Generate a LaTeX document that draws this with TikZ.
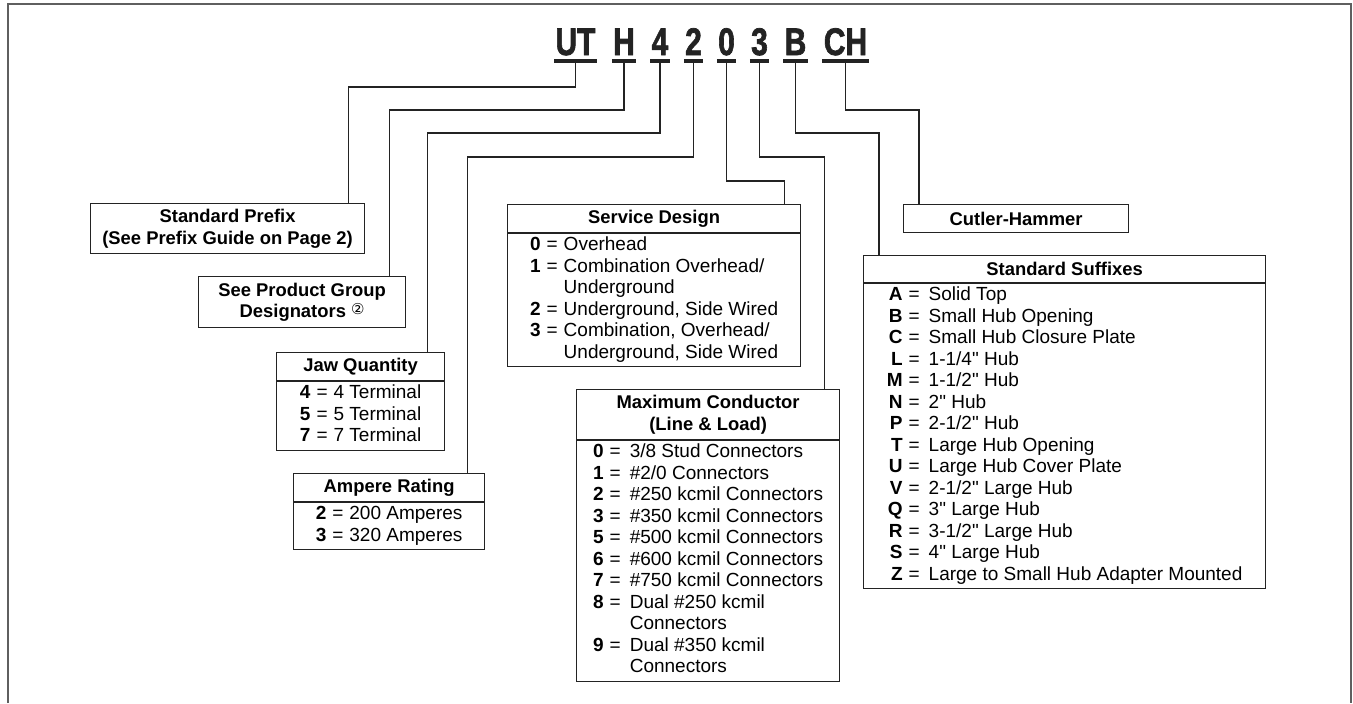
\documentclass[tikz,border=0pt]{standalone}
\usepackage{fontspec}
\setmainfont{Liberation Sans}[Ligatures=TeXOff]
\newfontfamily\circfont{DejaVu Sans}
\newfontfamily\codefont{Liberation Sans Bold}[FakeBold=2]
\usetikzlibrary{positioning}
\definecolor{framegray}{RGB}{95,95,95}
\definecolor{inkgray}{RGB}{35,35,35}
\newcommand{\narrow}[1]{\scalebox{0.78}[1]{#1}}
\newcommand{\kv}[2]{\textbf{#1} & = & #2\\}
\newenvironment{keylist}[1][3pt]{\begin{tabular}{@{}r@{\hspace{3pt}}c@{\hspace{#1}}l@{}}}{\end{tabular}}

\begin{document}
\begin{tikzpicture}[
    x=0.5pt, y=-0.5pt,
    codechar/.style={anchor=base, inner xsep=0.5pt, inner ysep=0pt, text=inkgray,
                     font=\fontsize{19.2}{20}\codefont},
    codeline/.style={line width=1.6pt, draw=inkgray},
    link/.style={line width=0.55pt, draw=inkgray},
    headbox/.style={rectangle, draw=inkgray, line width=0.6pt, minimum width=#1,
                    minimum height=14pt, inner sep=0pt, align=center, anchor=north west,
                    font=\fontsize{9.2}{10.8}\selectfont\bfseries},
    listbox/.style={rectangle, draw=inkgray, line width=0.6pt, minimum width=#1,
                    inner xsep=0pt, inner ysep=1pt, font=\fontsize{9.5}{10.75}\selectfont},
    frameline/.style={line width=1pt, draw=framegray}
]
\useasboundingbox (0,0) rectangle (1353,703);
\draw[frameline] (8,703) |- (1351,4) -- (1351,703);

% part number
\node[codechar] (cUT) at (575.5,55) {\narrow{UT}};
\node[codechar] (cH)  at (624,55)   {\narrow{H}};
\node[codechar] (c4)  at (660,55)   {\narrow{4}};
\node[codechar] (c2)  at (693.5,55) {\narrow{2}};
\node[codechar] (c0)  at (726.5,55) {\narrow{0}};
\node[codechar] (c3)  at (759.5,55) {\narrow{3}};
\node[codechar] (cB)  at (795.5,55) {\narrow{B}};
\node[codechar] (cCH) at (845.5,55) {\narrow{CH}};
\foreach \c in {cUT,cH,c4,c2,c0,c3,cB,cCH}
    \draw[codeline] ([yshift=-3pt]\c.base west) -- ([yshift=-3pt]\c.base east);

% prefix + product group
\node[headbox=137pt, minimum height=25pt] (prefix) at (90,203)
    {Standard Prefix\\(See Prefix Guide on Page 2)};
\node[headbox=103.5pt, minimum height=25.5pt] (product) at (198,276)
    {See Product Group\\Designators \raisebox{0.3ex}{\mdseries\circfont\fontsize{7.5}{7.5}\selectfont ②}};

% jaw quantity
\node[headbox=84pt] (jawhead) at (276,352) {Jaw Quantity};
\node[listbox=84pt, below=0pt of jawhead] (jawlist) {\begin{keylist}
    \kv{4}{4 Terminal}
    \kv{5}{5 Terminal}
    \kv{7}{7 Terminal}
\end{keylist}};

% ampere rating
\node[headbox=95.5pt] (amphead) at (293,473) {Ampere Rating};
\node[listbox=95.5pt, below=0pt of amphead] (amplist) {\begin{keylist}
    \kv{2}{200 Amperes}
    \kv{3}{320 Amperes}
\end{keylist}};

% service design
\node[headbox=146.5pt] (servhead) at (507,204) {Service Design};
\node[listbox=146.5pt, below=0pt of servhead] (servlist) {\begin{keylist}
    \kv{0}{Overhead}
    \kv{1}{Combination Overhead/}
    & & Underground\\
    \kv{2}{Underground, Side Wired}
    \kv{3}{Combination, Overhead/}
    & & Underground, Side Wired\\
\end{keylist}};

% maximum conductor
\node[headbox=131.5pt, minimum height=25pt] (condhead) at (576,389)
    {Maximum Conductor\\(Line \& Load)};
\node[listbox=131.5pt, below=0pt of condhead] (condlist) {\begin{keylist}[4.5pt]
    \kv{0}{3/8 Stud Connectors}
    \kv{1}{\#2/0 Connectors}
    \kv{2}{\#250 kcmil Connectors}
    \kv{3}{\#350 kcmil Connectors}
    \kv{5}{\#500 kcmil Connectors}
    \kv{6}{\#600 kcmil Connectors}
    \kv{7}{\#750 kcmil Connectors}
    \kv{8}{Dual \#250 kcmil}
    & & Connectors\\
    \kv{9}{Dual \#350 kcmil}
    & & Connectors\\
\end{keylist}};

% cutler-hammer
\node[headbox=112.5pt] (cutler) at (903,204) {Cutler-Hammer};

% standard suffixes
\node[headbox=201pt, minimum height=13.5pt] (sufhead) at (863,255) {Standard Suffixes};
\node[listbox=201pt, below=0pt of sufhead] (suflist) {\begin{keylist}[4.5pt]
    \kv{A}{Solid Top}
    \kv{B}{Small Hub Opening}
    \kv{C}{Small Hub Closure Plate}
    \kv{L}{1-1/4" Hub}
    \kv{M}{1-1/2" Hub}
    \kv{N}{2" Hub}
    \kv{P}{2-1/2" Hub}
    \kv{T}{Large Hub Opening}
    \kv{U}{Large Hub Cover Plate}
    \kv{V}{2-1/2" Large Hub}
    \kv{Q}{3" Large Hub}
    \kv{R}{3-1/2" Large Hub}
    \kv{S}{4" Large Hub}
    \kv{Z}{Large to Small Hub Adapter Mounted}
\end{keylist}};

% leader lines
\draw[link] ([yshift=-3pt]cUT.base) -- ++(0,26)  -| ([xshift=-8.5pt]prefix.north east);
\draw[link] ([yshift=-3pt]cH.base)  -- ++(0,49)  -| ([xshift=-8.5pt]product.north east);
\draw[link] ([yshift=-3pt]c4.base)  -- ++(0,72)  -| ([xshift=-9pt]jawhead.north east);
\draw[link] ([yshift=-3pt]c2.base)  -- ++(0,96)  -| ([xshift=-9pt]amphead.north east);
\draw[link] ([yshift=-3pt]c0.base)  -- ++(0,120) -| ([xshift=-8.5pt]servhead.north east);
\draw[link] ([yshift=-3pt]c3.base)  -- ++(0,96)  -| ([xshift=-8pt]condhead.north east);
\draw[link] ([yshift=-3pt]cB.base)  -- ++(0,72)  -| ([xshift=8pt]sufhead.north west);
\draw[link] ([yshift=-3pt]cCH.base) -- ++(0,49)  -| ([xshift=8pt]cutler.north west);

\end{tikzpicture}
\end{document}
